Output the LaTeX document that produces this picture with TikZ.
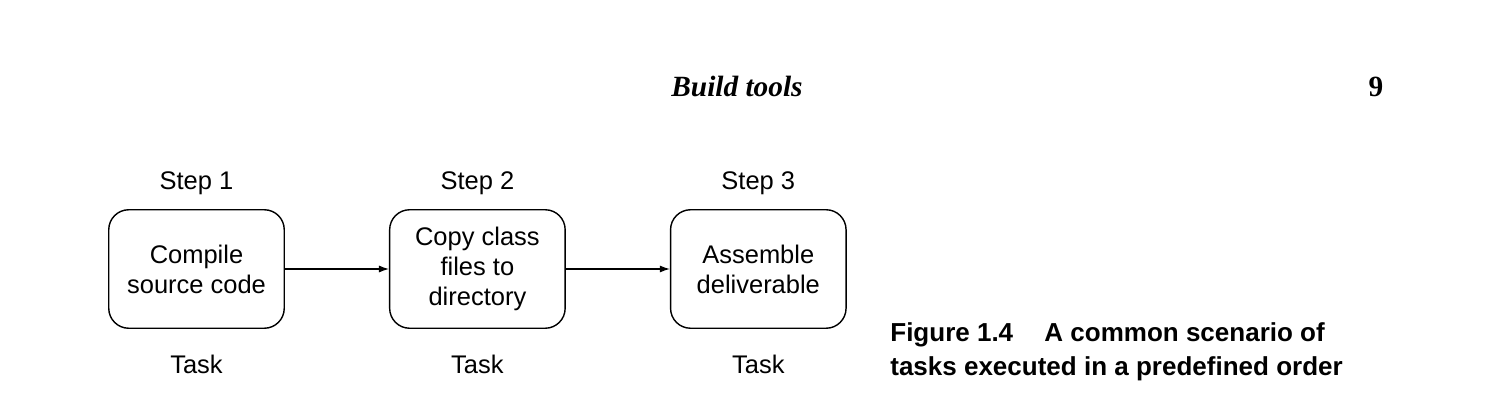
\documentclass[tikz,border=0pt]{standalone}
\usepackage{fontspec}
\setmainfont{Liberation Sans}
\newfontfamily\headfont{Liberation Serif}
\usetikzlibrary{positioning,arrows.meta}

\begin{document}
\begin{tikzpicture}[node distance = 2.08cm, font=\fontsize{14.5}{17}\selectfont,
    task/.style={draw, line width=0.8pt, rounded corners=0.4cm, minimum width=3.51cm, minimum height=2.37cm, align=center},
    lbl/.style={inner sep=0},
    flow/.style={-{Latex[length=0.2cm, width=0.14cm]}, line width=0.6pt}]
      \useasboundingbox (0,0) rectangle (29.7,-8.12);

      \node[font=\headfont\bfseries\itshape\fontsize{16.7}{20}\selectfont, anchor=base] (head) at (14.74,-1.94) {Build tools};
      \node[font=\headfont\bfseries\fontsize{16.7}{20}\selectfont, anchor=base] (page) at (27.52,-1.94) {9};

      \node[task] (1) at (3.93,-5.38) {Compile\\source code};
      \node[task] (2) [right = of 1] {Copy class\\files to\\directory};
      \node[task] (3) [right = of 2] {Assemble\\deliverable};

      \node[lbl, above = 0.4cm of 1.north, anchor=base] (s1) {Step 1};
      \node[lbl, above = 0.4cm of 2.north, anchor=base] (s2) {Step 2};
      \node[lbl, above = 0.4cm of 3.north, anchor=base] (s3) {Step 3};

      \node[lbl, below = 0.9cm of 1.south, anchor=base] (t1) {Task};
      \node[lbl, below = 0.9cm of 2.south, anchor=base] (t2) {Task};
      \node[lbl, below = 0.9cm of 3.south, anchor=base] (t3) {Task};

      \path[flow] (1) edge (2);
      \path[flow] (2) edge (3);

      \node[lbl, font=\bfseries\fontsize{14.8}{19.6}\selectfont, align=left, anchor=base west] (cap) at (17.8,-7.52)
        {Figure 1.4\hspace{1.2em}A common scenario of\\tasks executed in a predefined order};
    \end{tikzpicture}
\end{document}
